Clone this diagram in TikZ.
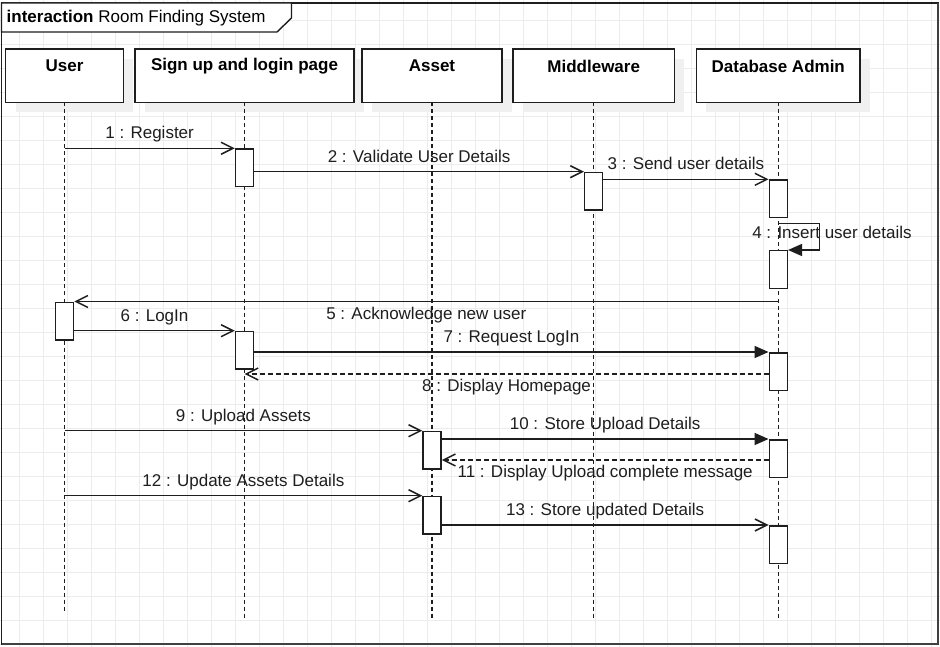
\documentclass[tikz,border=0pt]{standalone}
\usepackage{fontspec}
\setmainfont{Liberation Sans}
\usetikzlibrary{arrows.meta}
\definecolor{gridc}{RGB}{236,236,236}
\definecolor{shadowc}{RGB}{240,240,240}
\definecolor{ink}{RGB}{30,30,30}
\begin{document}
\begin{tikzpicture}[x=1pt,y=-1pt,
  gridline/.style={draw=gridc, line width=0.8pt},
  framebox/.style={draw=ink, line width=1.4pt},
  hdr/.style={minimum height=53pt, inner sep=0pt},
  hdrbox/.style={draw=ink, fill=white, line width=1.5pt},
  hdrtxt/.style={font=\fontsize{17}{20}\selectfont\bfseries, text=black, inner sep=0pt},
  lifeline/.style={draw=ink, line width=1.5pt, dash pattern=on 4pt off 3pt},
  act/.style={draw=ink, fill=white, line width=1.5pt, minimum width=18pt, minimum height=37.5pt, inner sep=0pt, anchor=north},
  msg/.style={draw=ink, line width=1.5pt, -{Straight Barb[length=12pt,width=12pt,line width=1.5pt]}},
  msgF/.style={draw=ink, line width=1.5pt, -{Triangle[length=14pt,width=12pt]}},
  ret/.style={msg, dash pattern=on 5pt off 3pt},
  lbl/.style={font=\fontsize{17}{20}\selectfont, text=ink, inner sep=1pt, text height=12.5pt, text depth=3.6pt},
  lblA/.style={lbl, midway, above=4pt},
  lblB/.style={lbl, midway, below=3.5pt}]
\useasboundingbox (0,0) rectangle (940,647);
\fill[white] (0,0) rectangle (940,647);
% grid
\foreach \k in {0,...,38} \draw[gridline] ({19.5+24*\k},0) -- ({19.5+24*\k},647);
\foreach \k in {0,...,26} \draw[gridline] (0,{20+24*\k}) -- (940,{20+24*\k});
% frame
\draw[framebox] (1.5,3) rectangle (938,644);
\draw[draw=ink!85, line width=2.2pt] (938,3) -- (938,644) -- (1.5,644);
\draw[framebox, fill=white] (1.5,3) -- (291.5,3) -- (291.5,18) -- (277,32) -- (1.5,32) -- cycle;
\node[anchor=base west, inner sep=0pt, font=\fontsize{17}{20}\selectfont, text=black] (title) at (6.5,23) {\textbf{interaction} Room Finding System};
% header boxes
\node[hdr, minimum width=117.3pt] (user) at (64.5,75.8) {};
\node[hdr, minimum width=219pt] (sign) at (244.5,75.8) {};
\node[hdr, minimum width=139.4pt] (asset) at (432,75.8) {};
\node[hdr, minimum width=160.7pt] (mid) at (593.7,75.8) {};
\node[hdr, minimum width=163.3pt] (db) at (778.3,75.8) {};
\foreach \n in {user,sign,asset,mid,db}{
  \fill[shadowc] ([shift={(10pt,-10pt)}]\n.south west) rectangle ([shift={(10pt,-10pt)}]\n.north east);
}
\foreach \n in {user,sign,asset,mid,db}{
  \draw[hdrbox] (\n.south west) rectangle (\n.north east);
}
\node[hdrtxt] (userT) at ([yshift=-17pt]user.north) {User};
\node[hdrtxt] (signT) at ([yshift=-17pt]sign.north) {Sign up and login page};
\node[hdrtxt] (assetT) at ([yshift=-17pt]asset.north) {Asset};
\node[hdrtxt] (midT) at ([yshift=-17pt]mid.north) {Middleware};
\node[hdrtxt] (dbT) at ([yshift=-17pt]db.north) {Database Admin};
% lifeline ends
\coordinate (userE) at (64.5,611);
\coordinate (signE) at (244.5,620);
\coordinate (assetE) at (432,620);
\coordinate (midE) at (593.7,620);
\coordinate (dbE) at (778.3,620);
\draw[lifeline] (user.south) -- (userE);
\draw[lifeline] (sign.south) -- (signE);
\draw[lifeline] (asset.south) -- (assetE);
\draw[lifeline] (mid.south) -- (midE);
\draw[lifeline] (db.south) -- (dbE);
% activations
\node[act] (s1) at (244.5,148.3) {};
\node[act] (m1) at (593.7,171.7) {};
\node[act] (d1) at (778.3,179.3) {};
\node[act] (d2) at (778.3,250) {};
\node[act] (u1) at (64.5,301.5) {};
\node[act] (s2) at (244.5,330.7) {};
\node[act] (d3) at (778.3,352) {};
\node[act] (a1) at (432,430.7) {};
\node[act] (d4) at (778.3,439) {};
\node[act] (a2) at (432,495.7) {};
\node[act] (d5) at (778.3,525) {};
% messages
\draw[msg] (s1.north west -| user.south) -- (s1.north west) node[lblA] {1 : Register};
\draw[msg] (m1.north west -| s1.east) -- (m1.north west) node[lblA] {2 : Validate User Details};
\draw[msg] (d1.north west -| m1.east) -- (d1.north west) node[lblA] {3 : Send user details};
\draw[msgF] ([yshift=-5pt]d1.south) -- ++(41,0) |- (d2.north east);
\node[lbl] (l4) at (832,234.5) {4 : Insert user details};
\draw[msg] (u1.north east -| db.south) -- (u1.north east) node[lblB] {5 : Acknowledge new user};
\draw[msg] (s2.north west -| u1.east) -- (s2.north west) node[lblA] {6 : LogIn};
\draw[msgF] (d3.north west -| s2.east) -- (d3.north west) node[lblA] {7 : Request LogIn};
\draw[ret] (d3.west |- 0,374) -- (sign.south |- 0,374) node[lblB] {8 : Display Homepage};
\draw[msg] (a1.north west -| user.south) -- (a1.north west) node[lblA] {9 : Upload Assets};
\draw[msgF] (d4.north west -| a1.east) -- (d4.north west) node[lblA] {10 : Store Upload Details};
\draw[ret] (d4.west |- 0,460) -- (a1.east |- 0,460) node[lblB] {11 : Display Upload complete message};
\draw[msg] (a2.north west -| user.south) -- (a2.north west) node[lblA] {12 : Update Assets Details};
\draw[msg] (d5.north west -| a2.east) -- (d5.north west) node[lblA] {13 : Store updated Details};
\end{tikzpicture}
\end{document}
